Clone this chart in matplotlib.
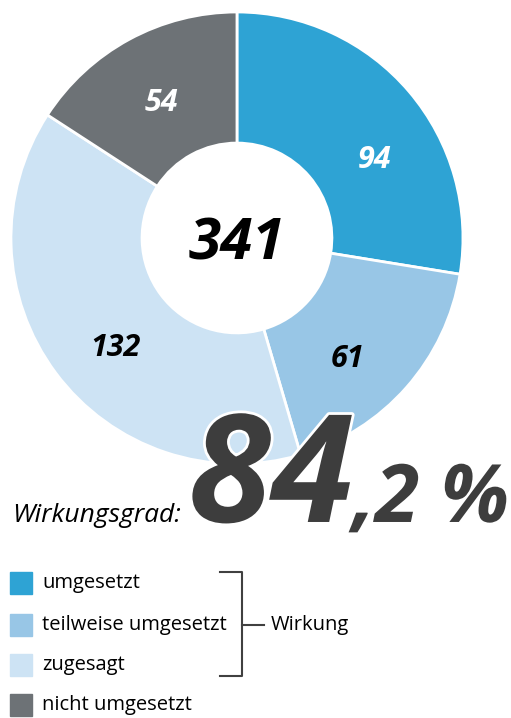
import matplotlib
matplotlib.use('Agg')
import matplotlib.pyplot as plt
import matplotlib.patheffects as pe
import matplotlib.transforms as mtransforms
import numpy as np

plt.rcParams['font.family'] = ['Open Sans', 'DejaVu Sans']

kategorien = ['umgesetzt', 'teilweise umgesetzt', 'zugesagt', 'nicht umgesetzt']
werte = [94, 61, 132, 54]
farben = ['#2ea3d4', '#98c6e6', '#cde3f4', '#6d7276']
labelfarben = ['white', 'black', 'black', 'white']
wirkung = ['umgesetzt', 'teilweise umgesetzt', 'zugesagt']
# kleine Verschiebung der Zahlen (Punkte)
verschiebung = [(12, -18), (-6, -12), (4, -11), (0, -3)]

gesamt = sum(werte)
grad = sum(w for k, w in zip(kategorien, werte) if k in wirkung) / gesamt * 100

fig = plt.figure(figsize=(5.11, 7.18), dpi=100)
ax = fig.add_axes([0.0215, 0.3538, 0.8845, 0.6295])
wedges, texte = ax.pie(werte, colors=farben, startangle=90, counterclock=False,
                       labels=[str(w) for w in werte], labeldistance=0.70,
                       wedgeprops=dict(width=0.58, edgecolor='white', linewidth=2))
for t, c, (dx, dy) in zip(texte, labelfarben, verschiebung):
    t.set_color(c)
    t.set_fontsize(22)
    t.set_fontweight('bold')
    t.set_fontstyle('italic')
    t.set_ha('center')
    t.set_va('center')
    t.set_transform(mtransforms.offset_copy(ax.transData, fig=fig, x=dx, y=dy, units='points'))
ax.set_aspect('equal')
ax.set_xlim(-1, 1)
ax.set_ylim(-1, 1)

ax.text(0, -0.03, str(gesamt), ha='center', va='center', fontsize=42,
        fontweight='bold', fontstyle='italic', color='black')

# Wirkungsgrad
ganz, dezimal = f'{grad:.1f}'.split('.')
weiss = [pe.withStroke(linewidth=4, foreground='white')]
fig.text(0.023, 0.273, 'Wirkungsgrad:', fontsize=19, fontstyle='italic',
         color='black', va='baseline', ha='left')
fig.text(0.692, 0.273, ganz, fontsize=108, fontweight='bold', fontstyle='italic',
         color='#3d3d3d', va='baseline', ha='right', path_effects=weiss)
fig.text(0.690, 0.273, ',' + dezimal + ' %', fontsize=58, fontweight='bold',
         fontstyle='italic', color='#3d3d3d', va='baseline', ha='left',
         path_effects=weiss)

# Legende
zeilen_y = [0.188, 0.130, 0.074, 0.018]
for y, k, c in zip(zeilen_y, kategorien, farben):
    fig.patches.append(plt.Rectangle((0.020, y - 0.0153), 0.043, 0.0306,
                                     transform=fig.transFigure, color=c))
    fig.text(0.082, y, k, fontsize=14.5, va='center', ha='left', color='black')

dunkel = '#404040'
oben, unten = zeilen_y[0] + 0.016, zeilen_y[2] - 0.016
mitte = zeilen_y[1]
fig.add_artist(plt.Line2D([0.430, 0.473, 0.473, 0.430], [oben, oben, unten, unten],
                          color=dunkel, linewidth=1.5))
fig.add_artist(plt.Line2D([0.473, 0.517], [mitte, mitte], color=dunkel, linewidth=1.5))
fig.text(0.530, mitte, 'Wirkung', fontsize=14.5, va='center', ha='left', color='black')

fig.savefig('out.png', dpi=100)
